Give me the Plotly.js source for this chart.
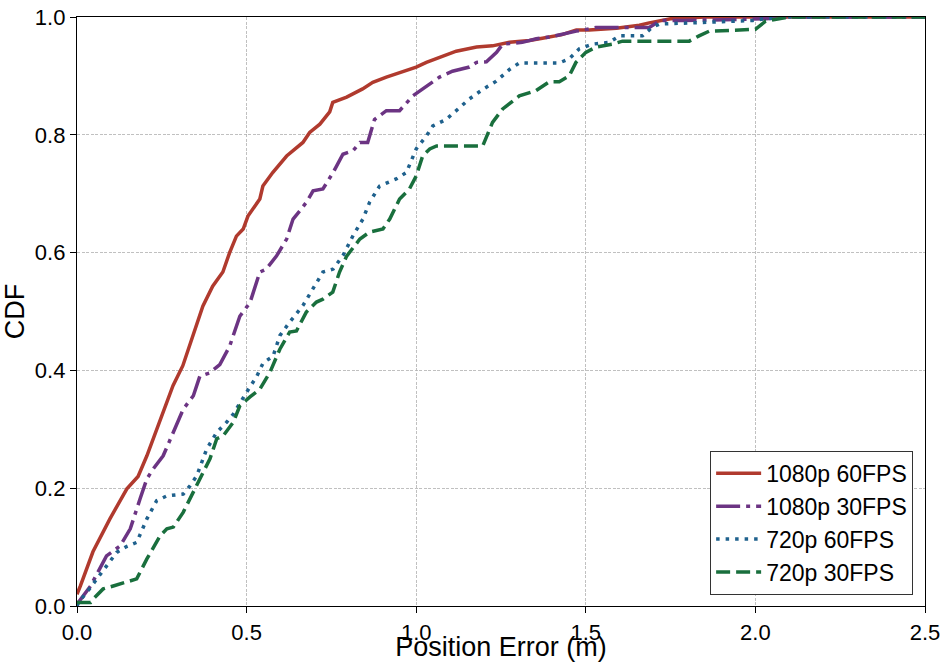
<!DOCTYPE html>
<html>
<head>
<meta charset="utf-8">
<script src="https://cdn.plot.ly/plotly-3.0.1.min.js"></script>
<style>html,body{margin:0;padding:0;background:#fff;}#chart{width:944px;height:662px;}</style>
</head>
<body>
<div id="chart"></div>
<script>
const seriesNames = ["1080p 60FPS", "1080p 30FPS", "720p 60FPS", "720p 30FPS"];

const x1080p60 = [0, 0.01, 0.047, 0.097, 0.147, 0.18, 0.206, 0.244, 0.283, 0.312, 0.342, 0.371, 0.40, 0.43, 0.45, 0.47, 0.49, 0.504, 0.539, 0.548, 0.577, 0.618, 0.666, 0.686, 0.716, 0.745, 0.754, 0.795, 0.842, 0.872, 0.912, 0.96, 1.0, 1.03, 1.078, 1.118, 1.178, 1.225, 1.275, 1.334, 1.372, 1.43, 1.472, 1.51, 1.59, 1.658, 1.687, 1.75, 1.85, 2.5];
const y1080p60 = [0.02, 0.034, 0.092, 0.148, 0.199, 0.22, 0.255, 0.312, 0.374, 0.408, 0.458, 0.509, 0.543, 0.567, 0.60, 0.628, 0.64, 0.662, 0.691, 0.713, 0.736, 0.764, 0.787, 0.804, 0.818, 0.839, 0.855, 0.864, 0.878, 0.889, 0.898, 0.907, 0.915, 0.923, 0.934, 0.942, 0.949, 0.951, 0.957, 0.96, 0.964, 0.97, 0.978, 0.978, 0.981, 0.986, 0.99, 0.997, 1.0, 1.0];

const x1080p30 = [0, 0.004, 0.04, 0.077, 0.087, 0.127, 0.157, 0.186, 0.206, 0.225, 0.254, 0.284, 0.313, 0.343, 0.362, 0.392, 0.421, 0.45, 0.48, 0.51, 0.539, 0.558, 0.588, 0.618, 0.637, 0.657, 0.677, 0.696, 0.725, 0.755, 0.784, 0.814, 0.834, 0.857, 0.877, 0.912, 0.951, 0.99, 1.019, 1.069, 1.107, 1.157, 1.178, 1.207, 1.237, 1.255, 1.313, 1.354, 1.393, 1.432, 1.472, 1.53, 1.687, 1.72, 1.785, 2.03, 2.1, 2.5];
const y1080p30 = [0, 0.006, 0.034, 0.074, 0.085, 0.102, 0.131, 0.182, 0.216, 0.233, 0.255, 0.295, 0.334, 0.357, 0.39, 0.396, 0.41, 0.441, 0.492, 0.515, 0.567, 0.572, 0.594, 0.623, 0.657, 0.671, 0.686, 0.705, 0.708, 0.736, 0.767, 0.773, 0.787, 0.787, 0.826, 0.841, 0.841, 0.866, 0.878, 0.898, 0.908, 0.915, 0.923, 0.924, 0.94, 0.954, 0.957, 0.963, 0.966, 0.971, 0.976, 0.982, 0.982, 0.994, 0.994, 0.997, 1.0, 1.0];

const x720p60 = [0, 0.004, 0.03, 0.058, 0.087, 0.117, 0.146, 0.176, 0.206, 0.235, 0.265, 0.313, 0.333, 0.353, 0.382, 0.412, 0.441, 0.461, 0.5, 0.53, 0.549, 0.578, 0.598, 0.627, 0.666, 0.696, 0.725, 0.755, 0.784, 0.814, 0.843, 0.863, 0.892, 0.941, 0.971, 1.0, 1.03, 1.049, 1.088, 1.118, 1.157, 1.196, 1.236, 1.275, 1.304, 1.422, 1.451, 1.481, 1.52, 1.569, 1.6, 1.667, 1.697, 1.717, 1.992, 2.03, 2.1, 2.5];
const y720p60 = [0, 0.006, 0.024, 0.046, 0.068, 0.091, 0.101, 0.108, 0.148, 0.179, 0.187, 0.19, 0.204, 0.221, 0.266, 0.295, 0.312, 0.326, 0.363, 0.39, 0.413, 0.424, 0.459, 0.482, 0.51, 0.538, 0.567, 0.572, 0.595, 0.629, 0.657, 0.686, 0.713, 0.725, 0.736, 0.776, 0.798, 0.815, 0.826, 0.841, 0.861, 0.877, 0.891, 0.911, 0.922, 0.922, 0.929, 0.946, 0.954, 0.957, 0.968, 0.968, 0.983, 0.988, 0.994, 0.997, 1.0, 1.0];

const x720p30 = [0, 0.04, 0.048, 0.077, 0.107, 0.146, 0.176, 0.206, 0.245, 0.265, 0.284, 0.313, 0.343, 0.362, 0.392, 0.412, 0.431, 0.461, 0.48, 0.51, 0.539, 0.569, 0.598, 0.627, 0.647, 0.676, 0.706, 0.725, 0.754, 0.774, 0.795, 0.834, 0.863, 0.902, 0.922, 0.951, 0.98, 1.0, 1.019, 1.04, 1.06, 1.196, 1.225, 1.255, 1.304, 1.353, 1.392, 1.422, 1.451, 1.471, 1.5, 1.53, 1.579, 1.608, 1.805, 1.834, 1.864, 2.0, 2.03, 2.07, 2.1, 2.5];
const y720p30 = [0.006, 0.006, 0.012, 0.029, 0.034, 0.04, 0.046, 0.08, 0.119, 0.131, 0.134, 0.159, 0.193, 0.216, 0.25, 0.284, 0.289, 0.312, 0.34, 0.355, 0.368, 0.397, 0.436, 0.465, 0.467, 0.499, 0.516, 0.521, 0.533, 0.567, 0.594, 0.623, 0.635, 0.64, 0.657, 0.691, 0.708, 0.73, 0.764, 0.776, 0.781, 0.781, 0.821, 0.844, 0.866, 0.875, 0.89, 0.89, 0.9, 0.923, 0.94, 0.949, 0.954, 0.959, 0.959, 0.968, 0.976, 0.979, 0.993, 0.997, 1.0, 1.0];

const xTickVals = [0, 0.5, 1.0, 1.5, 2.0, 2.5];
const yTickVals = [0, 0.2, 0.4, 0.6, 0.8, 1.0];

const colors = ["#B03A2E", "#6C3483", "#1F618D", "#196F3D"];
const dashes = ["solid", "24px,6px,4px,6px", "3.5px,6px", "14px,6px"];
const xs = [x1080p60, x1080p30, x720p60, x720p30];
const ys = [y1080p60, y1080p30, y720p60, y720p30];

const traces = seriesNames.map((n, i) => ({
  type: "scatter", mode: "lines", name: n,
  x: xs[i], y: ys[i],
  line: {color: colors[i], width: 3.5, dash: dashes[i]}
}));

const font = "Liberation Sans, Arial, sans-serif";
const layout = {
  width: 944, height: 662,
  margin: {l: 77, r: 19, t: 17, b: 56},
  paper_bgcolor: "#fff", plot_bgcolor: "#fff",
  showlegend: true,
  font: {family: font, color: "#000", size: 22},
  xaxis: {
    range: [0, 2.5], tickvals: xTickVals, tickformat: ".1f",
    showline: true, mirror: true, linecolor: "#000", linewidth: 1.2,
    ticks: "outside", ticklen: 6, tickcolor: "#000",
    showgrid: true, gridcolor: "#b0b0b0", gridwidth: 0.8, griddash: "3px,1.5px",
    zeroline: false,
    tickfont: {size: 22, family: font},
    title: {text: "Position Error (m)", font: {size: 27, family: font}, standoff: 0}
  },
  yaxis: {
    range: [0, 1.0], tickvals: yTickVals, tickformat: ".1f",
    showline: true, mirror: true, linecolor: "#000", linewidth: 1.2,
    ticks: "outside", ticklen: 6, tickcolor: "#000",
    showgrid: true, gridcolor: "#b0b0b0", gridwidth: 0.8, griddash: "3px,1.5px",
    zeroline: false,
    tickfont: {size: 22, family: font},
    title: {text: "CDF", font: {size: 27, family: font}, standoff: 4}
  },
  legend: {
    x: 0.986, y: 0.019, xanchor: "right", yanchor: "bottom",
    bgcolor: "#fff", bordercolor: "#333", borderwidth: 1,
    itemwidth: 45,
    font: {size: 23, family: font}
  }
};

Plotly.newPlot("chart", traces, layout, {displayModeBar: false, staticPlot: true});
</script>
</body>
</html>
